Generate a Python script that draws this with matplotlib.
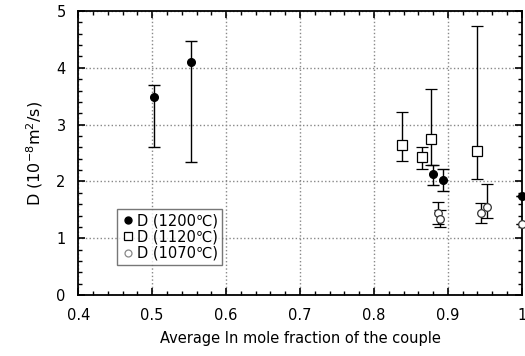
import matplotlib.pyplot as plt
from matplotlib.lines import Line2D
from matplotlib.ticker import MultipleLocator

# D (1200 C)
x_1200 = [0.503, 0.553, 0.880, 0.893, 1.000]
d_1200 = [3.49, 4.10, 2.13, 2.02, 1.74]
lo_1200 = [2.60, 2.34, 1.94, 1.83, 1.74]
hi_1200 = [3.70, 4.47, 2.29, 2.22, 1.74]

# D (1120 C)
x_1120 = [0.838, 0.865, 0.877, 0.940]
d_1120 = [2.64, 2.43, 2.75, 2.54]
lo_1120 = [2.36, 2.22, 2.29, 2.04]
hi_1120 = [3.22, 2.61, 3.63, 4.74]

# D (1070 C)
x_1070 = [0.887, 0.889, 0.945, 0.953, 1.000]
d_1070 = [1.44, 1.34, 1.44, 1.55, 1.25]
lo_1070 = [1.25, 1.20, 1.27, 1.36, 1.25]
hi_1070 = [1.64, 1.50, 1.62, 1.95, 1.25]

labels = ['D (1200℃)', 'D (1120℃)', 'D (1070℃)']


def yerr(d, lo, hi):
    return [[v - l for v, l in zip(d, lo)], [h - v for v, h in zip(d, hi)]]


plt.rcParams['font.family'] = ['DejaVu Sans']
fig = plt.figure(figsize=(5.25, 3.56), dpi=100)
ax = fig.add_axes([0.149, 0.171, 0.845, 0.798])

ax.errorbar(x_1200, d_1200, yerr=yerr(d_1200, lo_1200, hi_1200), fmt='o', color='black',
            ms=5.5, ecolor='black', elinewidth=1, capsize=4, capthick=1,
            clip_on=False, zorder=4)
ax.errorbar(x_1120, d_1120, yerr=yerr(d_1120, lo_1120, hi_1120), fmt='s', mfc='white',
            mec='black', mew=0.9, ms=7, ecolor='black', elinewidth=1, capsize=4, capthick=1,
            zorder=3)
ax.errorbar(x_1070, d_1070, yerr=yerr(d_1070, lo_1070, hi_1070), fmt='o', mfc='white',
            mec='#333333', mew=0.9, ms=5.5, ecolor='black', elinewidth=1, capsize=4,
            capthick=1, clip_on=False, zorder=3)

ax.set_xlim(0.4, 1.0)
ax.set_ylim(0, 5)
ax.xaxis.set_minor_locator(MultipleLocator(0.02))
ax.yaxis.set_major_locator(MultipleLocator(1))
ax.yaxis.set_minor_locator(MultipleLocator(0.2))
ax.set_xticks([0.4, 0.5, 0.6, 0.7, 0.8, 0.9, 1.0])
ax.set_xticklabels(['0.4', '0.5', '0.6', '0.7', '0.8', '0.9', '1'])
ax.tick_params(which='both', direction='in', top=True, right=True, labelsize=10.5)
ax.tick_params(which='major', length=5, width=1.2)
ax.tick_params(which='minor', length=3, width=1)
ax.tick_params(axis='x', which='major', pad=9)
ax.tick_params(axis='y', which='major', pad=9)
ax.grid(True, which='major', linestyle=':', color='#888888', linewidth=1)
for s in ax.spines.values():
    s.set_linewidth(1.3)

ax.set_xlabel('Average In mole fraction of the couple', fontsize=10.5, labelpad=6)
ax.set_ylabel('D (10$^{-8}$m$^2$/s)', fontsize=11.5, labelpad=8)

handles = [
    Line2D([], [], ls='none', marker='o', color='black', ms=5),
    Line2D([], [], ls='none', marker='s', mfc='white', mec='black', mew=0.9, ms=6),
    Line2D([], [], ls='none', marker='o', mfc='white', mec='#888888', mew=0.9, ms=5),
]
leg = ax.legend(handles, labels, loc='upper left', bbox_to_anchor=(0.07, 0.33),
                fontsize=10.5, handletextpad=0.1, handlelength=1.0, borderpad=0.3,
                labelspacing=0.1, fancybox=False, frameon=True, edgecolor='#555555')
leg.get_frame().set_linewidth(1)

fig.savefig('out.png', dpi=100)
